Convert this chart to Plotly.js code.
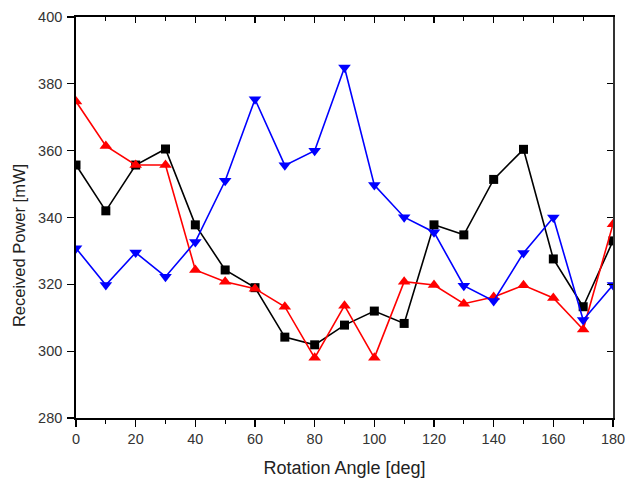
<!DOCTYPE html>
<html>
<head>
<meta charset="utf-8">
<script src="https://cdn.plot.ly/plotly-3.0.1.min.js"></script>
<style>html,body{margin:0;padding:0;background:#fff;}#chart{width:625px;height:480px;}</style>
</head>
<body>
<div id="chart"></div>
<script>
const angles = [0,10,20,30,40,50,60,70,80,90,100,110,120,130,140,150,160,170,180];
const seriesBlack = [355.7,342,355.7,360.5,337.8,324.3,319,304.2,301.9,307.8,312,308.3,337.8,334.8,351.4,360.4,327.6,313.3,333];
const seriesRed   = [374.7,361.4,355.7,355.7,324.3,320.8,318.7,313.3,298,313.6,298,320.8,319.8,314.2,316.2,319.7,315.9,306.5,338];
const seriesBlue  = [330.8,319.8,329.5,322.3,332.7,351,375.4,355.6,360,384.9,349.7,340.1,335.6,319.6,315,329.4,340,309.3,319.8];
const xTitle = 'Rotation Angle [deg]';
const yTitle = 'Received Power [mW]';

const fam = 'Liberation Sans, Arial, sans-serif';
const tickFont = {size: 14.5, family: fam, color: '#333'};
const traces = [
  {x: angles, y: seriesBlack, mode: 'lines+markers', line: {color: '#000', width: 1.6},
   marker: {symbol: 'square', size: 9, color: '#000'}},
  {x: angles, y: seriesRed, mode: 'lines+markers', line: {color: '#ff0000', width: 1.6},
   marker: {symbol: 'triangle-up', size: 11, color: '#ff0000'}},
  {x: angles, y: seriesBlue, mode: 'lines+markers', line: {color: '#0000ff', width: 1.6},
   marker: {symbol: 'triangle-down', size: 11, color: '#0000ff'}},
  {x: [0], y: [280], xaxis: 'x2', yaxis: 'y2', mode: 'markers', marker: {opacity: 0}, hoverinfo: 'skip'}
];
const layout = {
  width: 625, height: 480,
  margin: {l: 76, r: 12, t: 17, b: 62},
  showlegend: false,
  paper_bgcolor: '#fff', plot_bgcolor: '#fff',
  font: {family: fam, color: '#222'},
  xaxis: {range: [0, 180], dtick: 20, tick0: 0, ticks: 'outside', ticklen: 7, tickwidth: 1.3, tickcolor: '#000',
    minor: {dtick: 10, ticks: 'outside', ticklen: 4, tickwidth: 1.3, tickcolor: '#000'},
    showline: true, linecolor: '#000', linewidth: 1.8, showgrid: false, zeroline: false,
    ticklabeloverflow: 'allow', tickfont: tickFont,
    title: {text: xTitle, font: {size: 18, family: fam, color: '#222'}, standoff: 15}},
  yaxis: {range: [280, 400], dtick: 20, ticks: 'outside', ticklen: 7, tickwidth: 1.3, tickcolor: '#000',
    showline: true, linecolor: '#000', linewidth: 1.8, showgrid: false, zeroline: false,
    tickfont: tickFont, ticklabelstandoff: 2},
  xaxis2: {overlaying: 'x', side: 'top', range: [0, 180], dtick: 20, ticks: 'inside', ticklen: 6, tickwidth: 1.3, tickcolor: '#000',
    minor: {dtick: 10, ticks: 'inside', ticklen: 4, tickwidth: 1.3, tickcolor: '#000'},
    showticklabels: false, showline: true, linecolor: '#000', linewidth: 1.6, showgrid: false, zeroline: false},
  yaxis2: {overlaying: 'y', side: 'right', range: [280, 400], dtick: 20, ticks: 'inside', ticklen: 6, tickwidth: 1.3, tickcolor: '#000',
    showticklabels: false, showline: true, linecolor: '#333', linewidth: 1.8, showgrid: false, zeroline: false},
  annotations: [{text: yTitle, textangle: -90, xref: 'paper', yref: 'paper', x: -0.107, y: 0.43,
    xanchor: 'center', yanchor: 'middle', showarrow: false, font: {size: 16.5, family: fam, color: '#222'}}]
};
Plotly.newPlot('chart', traces, layout, {displayModeBar: false, staticPlot: true});
</script>
</body>
</html>
